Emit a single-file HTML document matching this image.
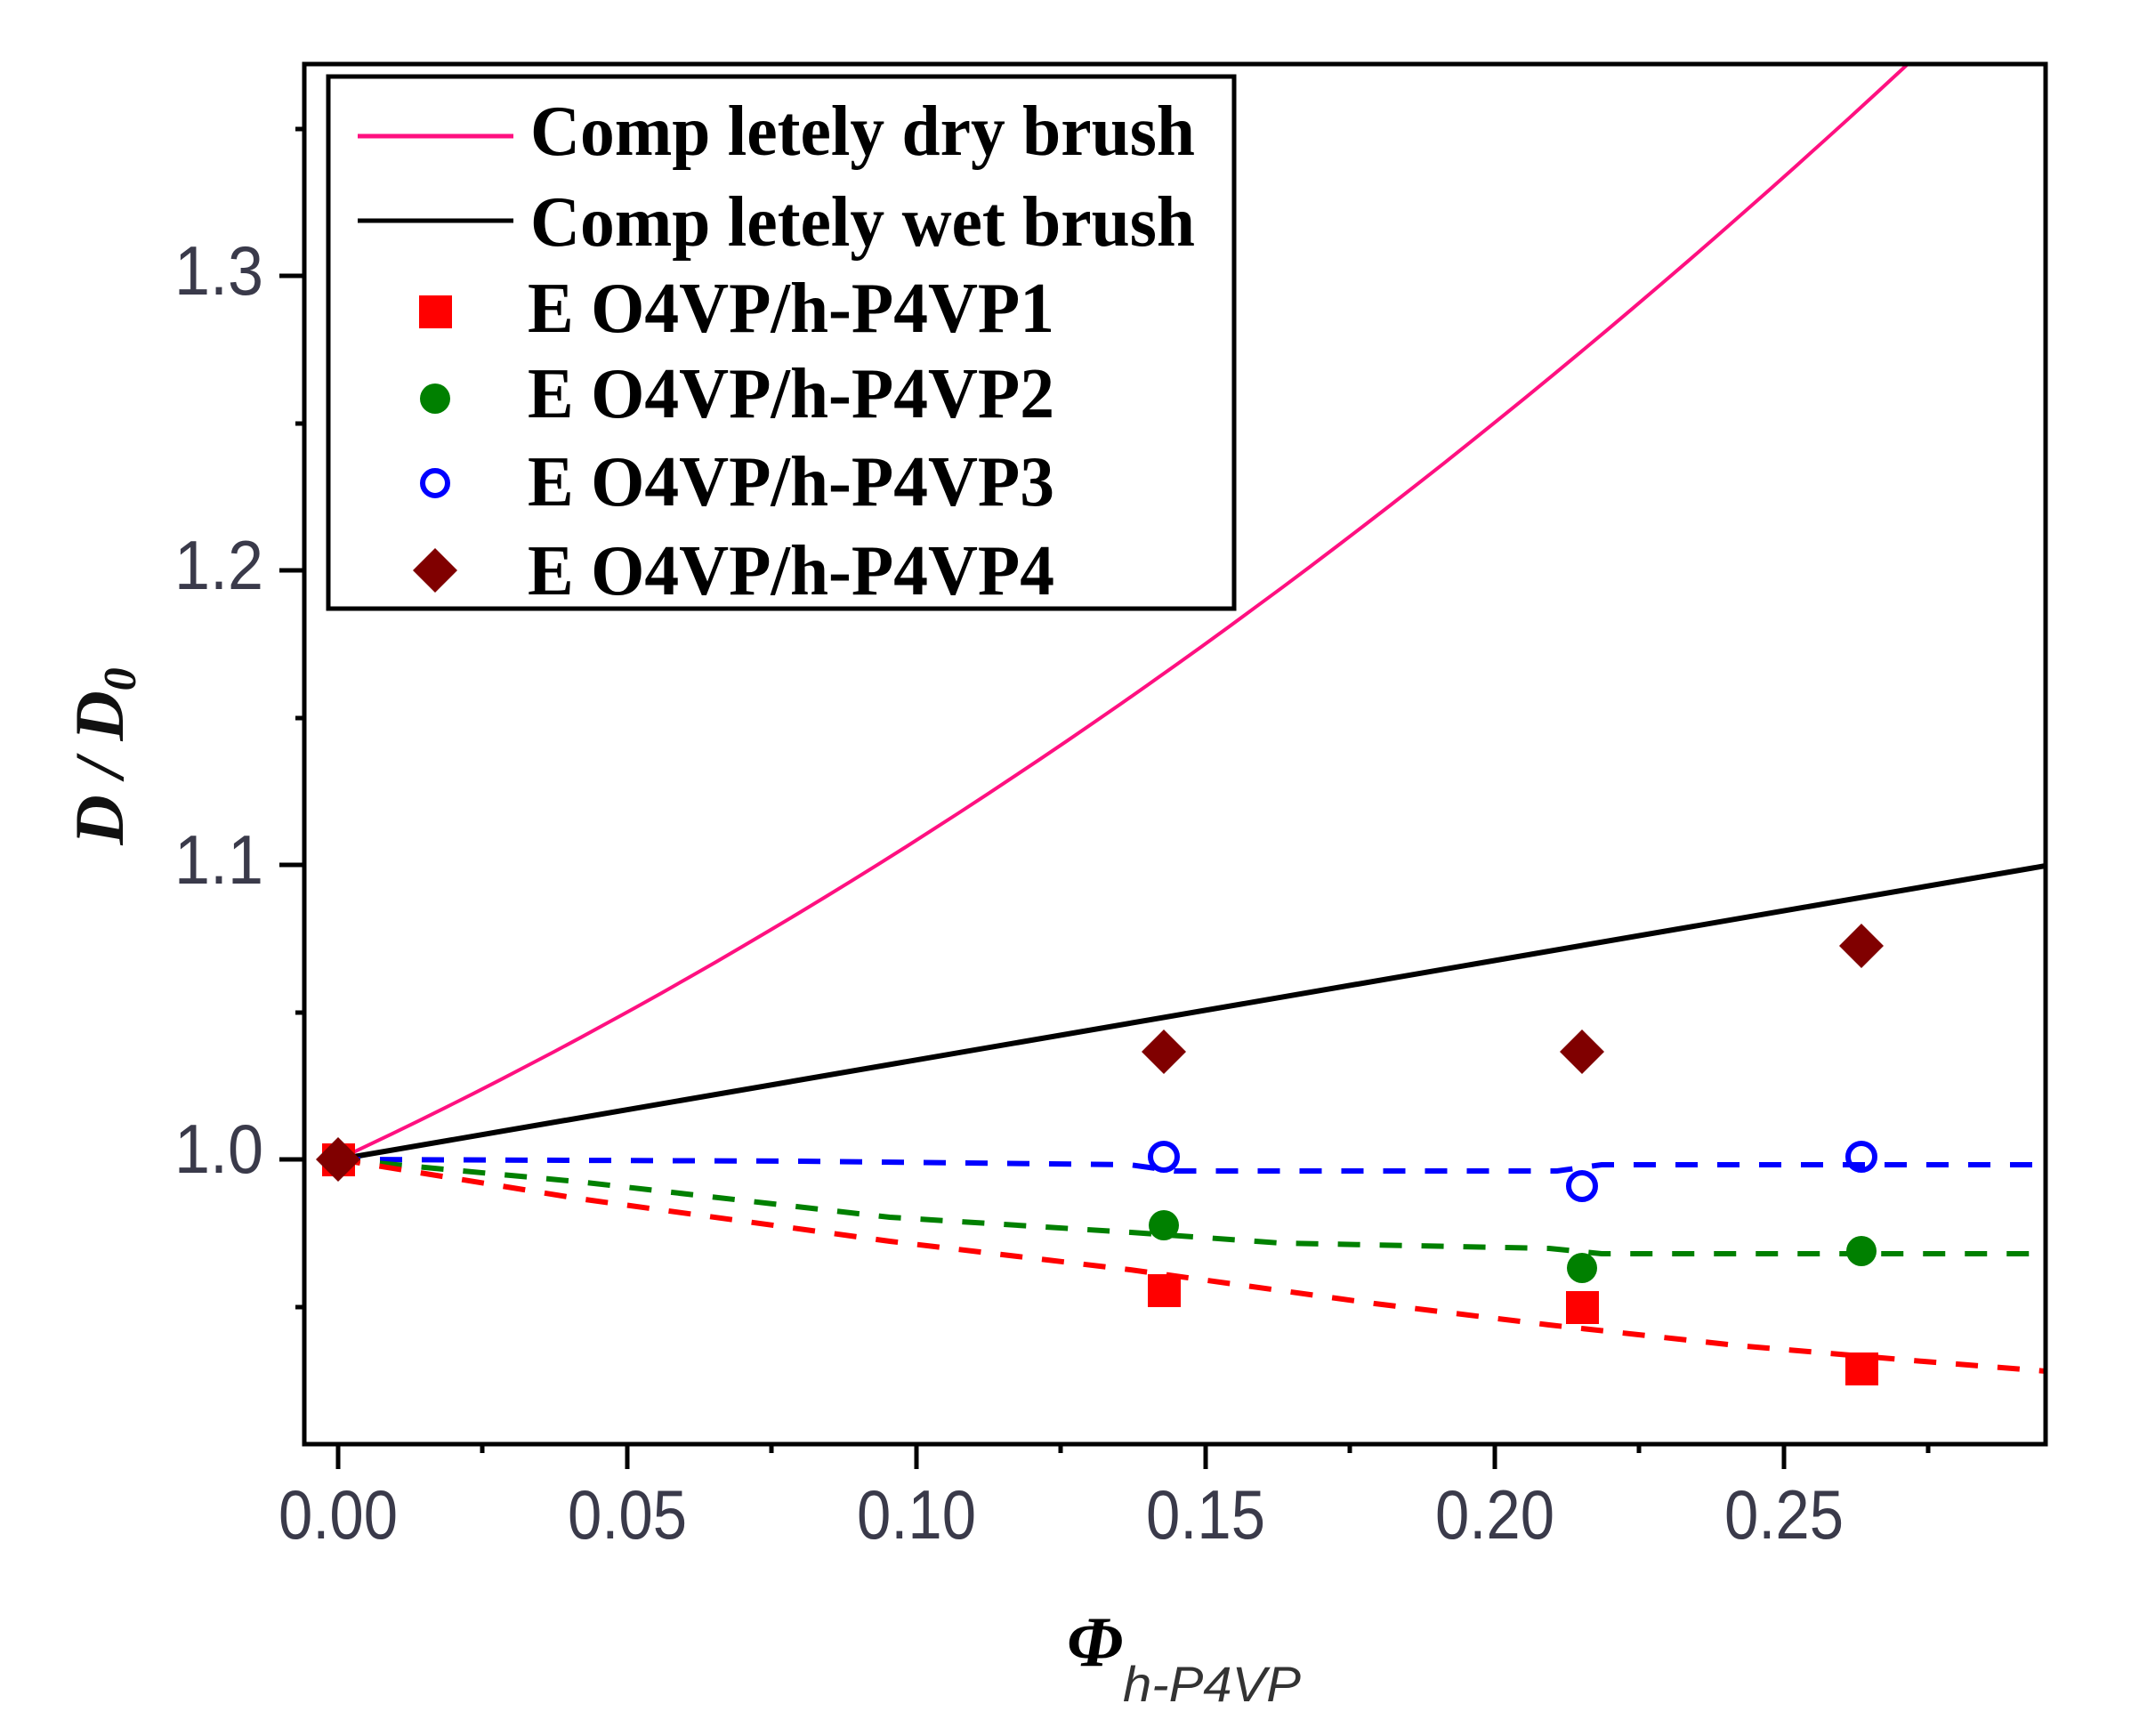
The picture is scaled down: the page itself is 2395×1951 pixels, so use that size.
<!DOCTYPE html>
<html><head><meta charset="utf-8"><style>
html,body{margin:0;padding:0;background:#fff}
svg{display:block}
</style></head><body>
<svg width="2395" height="1951" viewBox="0 0 2395 1951" xmlns="http://www.w3.org/2000/svg">
<defs><clipPath id="pc"><rect x="342" y="72" width="1957" height="1551"/></clipPath></defs>
<rect width="2395" height="1951" fill="#fff"/>
<g clip-path="url(#pc)" fill="none" stroke-width="5">
 <path id="dry" stroke="#ff1080" stroke-width="4" d=""/>
 <line x1="380" y1="1303" x2="2299" y2="973" stroke="#000" stroke-width="6"/>
 <polyline stroke="#0000ff" stroke-width="6" stroke-dasharray="25,22" points="380,1303 900,1305 1270,1309 1320,1316 1750,1316 1800,1309 2299,1309"/>
 <polyline stroke="#008000" stroke-width="6" stroke-dasharray="25,22" points="380,1303 650,1328 1000,1368 1271,1385 1439,1397 1741,1403 1800,1409 2299,1409"/>
 <polyline stroke="#ff0000" stroke-width="6" stroke-dasharray="25,22" points="380,1303 650,1347 1000,1395 1270,1427 1545,1465 1741,1489 1951,1512 2162,1530 2299,1541"/>
</g>
<g>
 <rect x="362" y="1285" width="37" height="37" fill="#ff0000"/>
 <rect x="1290" y="1432" width="37" height="37" fill="#ff0000"/>
 <rect x="1760" y="1451" width="37" height="37" fill="#ff0000"/>
 <rect x="2074" y="1520" width="37" height="37" fill="#ff0000"/>
 <circle cx="1308" cy="1377" r="17" fill="#008000"/>
 <circle cx="1778" cy="1425" r="17" fill="#008000"/>
 <circle cx="2092" cy="1406" r="17" fill="#008000"/>
 <circle cx="1308" cy="1300" r="15" fill="none" stroke="#0000ff" stroke-width="6"/>
 <circle cx="1778" cy="1333" r="15" fill="none" stroke="#0000ff" stroke-width="6"/>
 <circle cx="2092" cy="1300" r="15" fill="none" stroke="#0000ff" stroke-width="6"/>
 <polygon points="380,1278 405,1303 380,1328 355,1303" fill="#800000"/>
 <polygon points="1308,1157 1333,1182 1308,1207 1283,1182" fill="#800000"/>
 <polygon points="1778,1157 1803,1182 1778,1207 1753,1182" fill="#800000"/>
 <polygon points="2092,1038 2117,1063 2092,1088 2067,1063" fill="#800000"/>
</g>
<rect x="342" y="72" width="1957" height="1551" fill="none" stroke="#000" stroke-width="5"/>
<g stroke="#000" stroke-width="5">
 <line x1="380" y1="1623" x2="380" y2="1651"/><line x1="705" y1="1623" x2="705" y2="1651"/>
 <line x1="1030" y1="1623" x2="1030" y2="1651"/><line x1="1355" y1="1623" x2="1355" y2="1651"/>
 <line x1="1680" y1="1623" x2="1680" y2="1651"/><line x1="2005" y1="1623" x2="2005" y2="1651"/>
 <line x1="542" y1="1623" x2="542" y2="1633"/><line x1="867" y1="1623" x2="867" y2="1633"/>
 <line x1="1192" y1="1623" x2="1192" y2="1633"/><line x1="1517" y1="1623" x2="1517" y2="1633"/>
 <line x1="1842" y1="1623" x2="1842" y2="1633"/><line x1="2167" y1="1623" x2="2167" y2="1633"/>
 <line x1="314" y1="1303" x2="342" y2="1303"/><line x1="314" y1="972" x2="342" y2="972"/>
 <line x1="314" y1="641" x2="342" y2="641"/><line x1="314" y1="310" x2="342" y2="310"/>
 <line x1="332" y1="1469" x2="342" y2="1469"/><line x1="332" y1="1138" x2="342" y2="1138"/>
 <line x1="332" y1="807" x2="342" y2="807"/><line x1="332" y1="476" x2="342" y2="476"/>
 <line x1="332" y1="145" x2="342" y2="145"/>
</g>
<g font-family="Liberation Sans, sans-serif" font-size="78" fill="#3a3a4a">
 <text x="296" y="331" text-anchor="end" textLength="100" lengthAdjust="spacingAndGlyphs">1.3</text>
 <text x="296" y="662" text-anchor="end" textLength="100" lengthAdjust="spacingAndGlyphs">1.2</text>
 <text x="296" y="993" text-anchor="end" textLength="100" lengthAdjust="spacingAndGlyphs">1.1</text>
 <text x="296" y="1318" text-anchor="end" textLength="100" lengthAdjust="spacingAndGlyphs">1.0</text>
 <text x="313" y="1729" textLength="134" lengthAdjust="spacingAndGlyphs">0.00</text>
 <text x="638" y="1729" textLength="134" lengthAdjust="spacingAndGlyphs">0.05</text>
 <text x="963" y="1729" textLength="134" lengthAdjust="spacingAndGlyphs">0.10</text>
 <text x="1288" y="1729" textLength="134" lengthAdjust="spacingAndGlyphs">0.15</text>
 <text x="1613" y="1729" textLength="134" lengthAdjust="spacingAndGlyphs">0.20</text>
 <text x="1938" y="1729" textLength="134" lengthAdjust="spacingAndGlyphs">0.25</text>
</g>
<text x="1199" y="1872" font-family="Liberation Serif, serif" font-weight="bold" font-style="italic" font-size="80" fill="#000">Φ</text>
<text x="1262" y="1912" font-family="Liberation Sans, sans-serif" font-style="italic" font-size="56" fill="#333" textLength="200" lengthAdjust="spacingAndGlyphs">h-P4VP</text>
<g transform="translate(138,850) rotate(-90)">
 <text x="0" y="0" text-anchor="middle" font-family="Liberation Serif, serif" font-weight="bold" font-style="italic" font-size="78" fill="#111">D / D<tspan font-size="52" dy="14">0</tspan></text>
</g>
<rect x="369" y="86" width="1018" height="598" fill="#fff" stroke="#000" stroke-width="5"/>
<line x1="402" y1="153" x2="577" y2="153" stroke="#ff1080" stroke-width="5"/>
<line x1="402" y1="248" x2="577" y2="248" stroke="#000" stroke-width="5"/>
<rect x="471" y="332" width="37" height="37" fill="#ff0000"/>
<circle cx="489" cy="448" r="17" fill="#008000"/>
<circle cx="489" cy="543" r="14" fill="none" stroke="#0000ff" stroke-width="6"/>
<polygon points="489,616 514,641 489,666 464,641" fill="#800000"/>
<g font-family="Liberation Serif, serif" font-weight="bold" font-size="80" fill="#000">
 <text x="596" y="174" textLength="747" lengthAdjust="spacingAndGlyphs">Comp letely dry brush</text>
 <text x="596" y="276" textLength="747" lengthAdjust="spacingAndGlyphs">Comp letely wet brush</text>
 <text x="593" y="373" textLength="592" lengthAdjust="spacingAndGlyphs">E O4VP/h-P4VP1</text>
 <text x="593" y="469" textLength="592" lengthAdjust="spacingAndGlyphs">E O4VP/h-P4VP2</text>
 <text x="593" y="568" textLength="592" lengthAdjust="spacingAndGlyphs">E O4VP/h-P4VP3</text>
 <text x="593" y="668" textLength="592" lengthAdjust="spacingAndGlyphs">E O4VP/h-P4VP4</text>
</g>
<script>
(function(){var d="";for(var i=0;i<=60;i++){var p=0.28*i/60;var v=1+0.917*p+1.67*p*p;var x=380+6500*p;var y=1303-3310*(v-1);d+=(i?"L":"M")+x.toFixed(1)+","+y.toFixed(1);}document.getElementById("dry").setAttribute("d",d);})();
</script>
</svg>
</body></html>
